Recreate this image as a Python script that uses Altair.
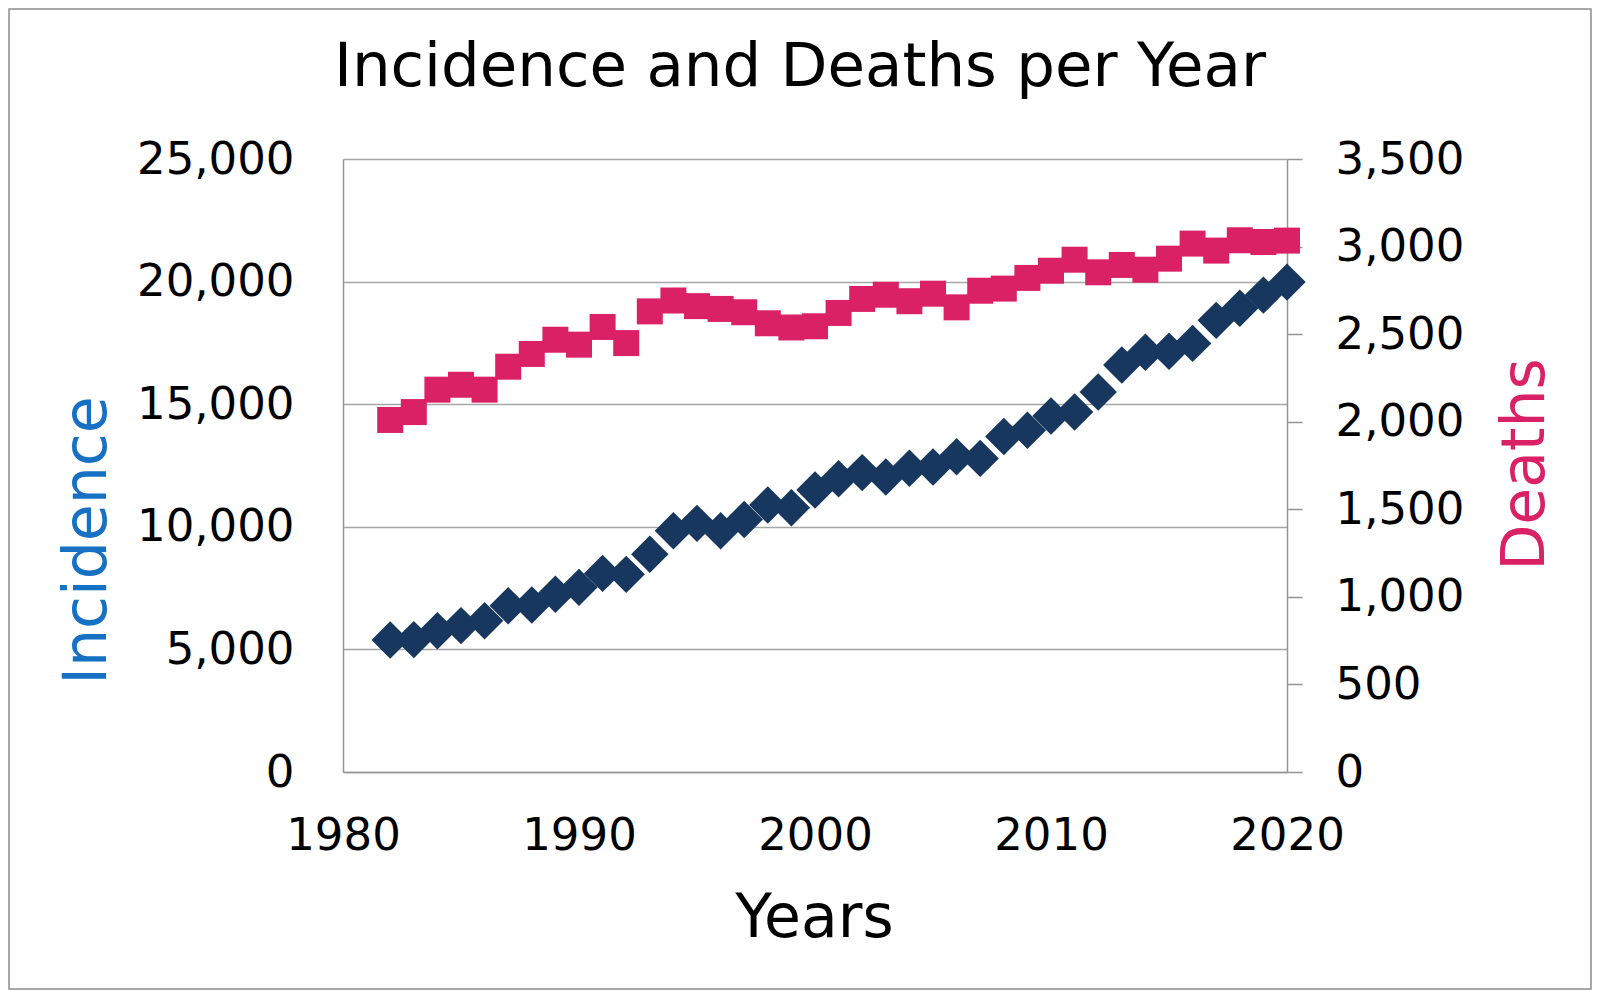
import altair as alt
import pandas as pd

# ---- data ----
years = list(range(1982, 2021))
incidence = [5380, 5400, 5760, 5970, 6170, 6780, 6810, 7250, 7530, 8100,
             8060, 8880, 9840, 10140, 9840, 10300, 10890, 10780, 11500, 11960,
             12210, 12030, 12390, 12440, 12860, 12790, 13680, 13940, 14520, 14680,
             15500, 16600, 17120, 17160, 17480, 18420, 18910, 19450, 19980]
deaths = [2010, 2055, 2183, 2211, 2183, 2314, 2387, 2468, 2440, 2541,
          2449, 2630, 2692, 2660, 2644, 2625, 2562, 2538, 2545, 2621,
          2701, 2725, 2688, 2731, 2653, 2748, 2760, 2821, 2862, 2925,
          2853, 2895, 2868, 2931, 3017, 2977, 3036, 3026, 3034]
x_ticks = [1980, 1990, 2000, 2010, 2020]
inc_ticks = [0, 5000, 10000, 15000, 20000, 25000]
death_ticks = [0, 500, 1000, 1500, 2000, 2500, 3000, 3500]
chart_title = "Incidence and Deaths per Year"

df = pd.DataFrame({"Year": years, "Incidence": incidence, "Deaths": deaths})

NAVY = "#17375E"
PINK = "#DB2166"
BLUE = "#1670C4"
GRID = "#A6A6A6"
AXIS = "#959595"
FONT = "DejaVu Sans"

W, H = 944, 613
PL, PT, PR, PB = 335, 151, 305, 218

x_enc = alt.X(
    "Year:Q",
    scale=alt.Scale(domain=[1980, 2020], nice=False, zero=False),
    axis=alt.Axis(
        values=x_ticks, format="d", title="Years", grid=False, ticks=False, tickSize=0,
        labelFlush=False, labelOverlap=False,
        labelPadding=41, labelFontSize=45, labelFont=FONT, labelColor="black",
        titleFontSize=60, titleFont=FONT, titleFontWeight="normal", titleColor="black",
        titleX=471, titleY=164, titleBaseline="alphabetic", titleAlign="center",
        domainColor=AXIS, domainWidth=1.5,
    ),
)

base = alt.Chart(df)

inc = base.mark_point(shape="diamond", filled=True, size=1400, opacity=1, color=NAVY).encode(
    x=x_enc,
    y=alt.Y(
        "Incidence:Q",
        scale=alt.Scale(domain=[0, 25000], nice=False),
        axis=alt.Axis(
            orient="left", values=inc_ticks, format=",d", title="Incidence",
            grid=True, gridColor=GRID, gridWidth=1.5, ticks=False, tickSize=0,
            labelFlush=False, labelOverlap=False,
            labelPadding=49, labelFontSize=45, labelFont=FONT, labelColor="black",
            titleFontSize=60, titleFont=FONT, titleFontWeight="normal", titleColor=BLUE,
            titleX=-238, titleY=381, titleAngle=270, titleBaseline="alphabetic", titleAlign="center",
            domainColor=AXIS, domainWidth=1.5,
        ),
    ),
)

dea = base.mark_point(shape="square", filled=True, size=676, opacity=1, color=PINK).encode(
    x=x_enc,
    y=alt.Y(
        "Deaths:Q",
        scale=alt.Scale(domain=[0, 3500], nice=False),
        axis=alt.Axis(
            orient="right", values=death_ticks, format=",d", title="Deaths",
            grid=False, ticks=True, tickSize=15, tickColor=AXIS, tickWidth=1.5,
            labelFlush=False, labelOverlap=False,
            labelPadding=33, labelFontSize=45, labelFont=FONT, labelColor="black",
            titleFontSize=60, titleFont=FONT, titleFontWeight="normal", titleColor=PINK,
            titleX=256, titleY=305, titleAngle=270, titleBaseline="alphabetic", titleAlign="center",
            domainColor=AXIS, domainWidth=1.5,
        ),
    ),
)

frame = alt.Chart(pd.DataFrame({"k": [0]})).mark_rect(
    fill=None, stroke="#8C8C8C", strokeWidth=1.5
).encode(
    x=alt.value(-PL + 1), x2=alt.value(W + PR - 1),
    y=alt.value(-PT + 1), y2=alt.value(H + PB - 1),
)

title_text = alt.Chart(pd.DataFrame({"t": [chart_title]})).mark_text(
    font=FONT, fontSize=61, color="black", align="center", baseline="alphabetic"
).encode(
    text="t:N",
    x=alt.value(800 - PL - 8),
    y=alt.value(86 - PT - 8),
)

chart = (
    alt.layer(frame, title_text, inc, dea)
    .resolve_scale(y="independent")
    .properties(
        width=W, height=H,
        padding={"left": PL, "top": PT, "right": PR, "bottom": PB},
        autosize=alt.AutoSizeParams(type="none"),
        background="white",
    )
    .configure_view(stroke=None)
)

chart.save("out.html", embed_options={"renderer": "svg", "actions": False})
